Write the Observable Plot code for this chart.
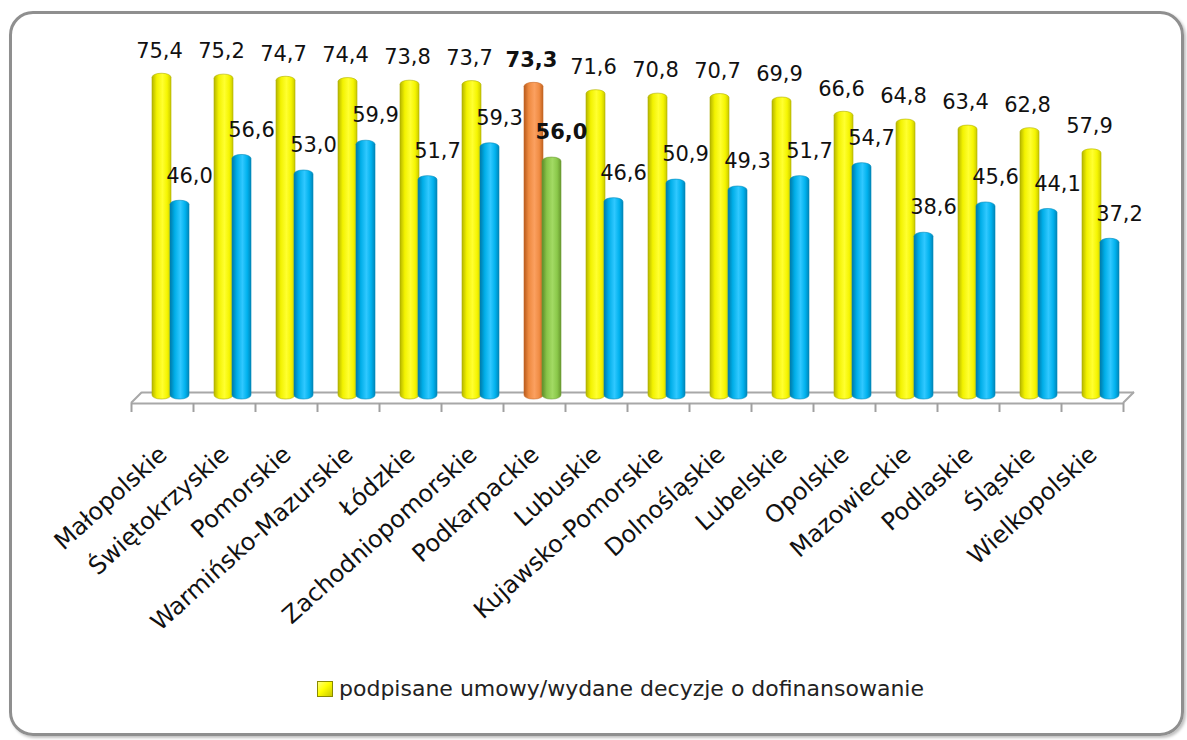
<!DOCTYPE html>
<html>
<head>
<meta charset="utf-8">
<script src="https://cdn.jsdelivr.net/npm/d3@7"></script>
<script src="https://cdn.jsdelivr.net/npm/@observablehq/plot@0.6"></script>
<style>
  html, body { margin: 0; padding: 0; background: #fff; }
  body { width: 1187px; height: 740px; overflow: hidden; position: relative; font-family: "DejaVu Sans", sans-serif; }
  #frame { position: absolute; left: 9px; top: 11px; width: 1175px; height: 725px; box-sizing: border-box;
           border: 3px solid #8f8f8f; border-radius: 24px; box-shadow: 2px 2px 3px rgba(0,0,0,0.25); pointer-events: none; }
  #chart { position: absolute; left: 0; top: 0; }
  #legend { position: absolute; left: 317px; top: 676px; display: flex; align-items: center; gap: 6px;
            font-family: "DejaVu Sans", sans-serif; font-size: 22px; color: #222; white-space: nowrap; }
  #legend .sw { width: 14px; height: 14px; border: 1px solid #8a8a00;
                background: linear-gradient(135deg, #ffff80 0%, #ffff00 45%, #c8c800 100%); }
</style>
</head>
<body>
<div id="chart"></div>
<div id="frame"></div>
<div id="legend"><span class="sw"></span><span>podpisane umowy/wydane decyzje o dofinansowanie</span></div>
<script>
const regions = ["Małopolskie", "Świętokrzyskie", "Pomorskie", "Warmińsko-Mazurskie", "Łódzkie",
  "Zachodniopomorskie", "Podkarpackie", "Lubuskie", "Kujawsko-Pomorskie", "Dolnośląskie",
  "Lubelskie", "Opolskie", "Mazowieckie", "Podlaskie", "Śląskie", "Wielkopolskie"];
const signed = [75.4, 75.2, 74.7, 74.4, 73.8, 73.7, 73.3, 71.6, 70.8, 70.7, 69.9, 66.6, 64.8, 63.4, 62.8, 57.9];
const second = [46.0, 56.6, 53.0, 59.9, 51.7, 59.3, 56.0, 46.6, 50.9, 49.3, 51.7, 54.7, 38.6, 45.6, 44.1, 37.2];
const highlight = "Podkarpackie";

const rows = regions.map((r, i) => ({region: r, a: signed[i], b: second[i]}));
const fmt = v => d3.format(".1f")(v).replace(".", ",");
const isH = d => d.region === highlight;
const notH = d => d.region !== highlight;

const labelFont = {fontFamily: "DejaVu Sans", fontSize: 21, fill: "#111"};

const chart = Plot.plot({
  width: 1187,
  height: 640,
  marginLeft: 131,
  marginRight: 64,
  marginTop: 53.4,
  marginBottom: 241,
  style: {background: "transparent", overflow: "visible"},
  x: {type: "band", domain: regions, padding: 0, axis: null},
  y: {domain: [0, 80], axis: null},
  color: {type: "identity"},
  marks: [
    // floor
    Plot.ruleY([0], {dy: -7, dx: 11, stroke: "#a8a8a8", strokeWidth: 2}),
    Plot.ruleY([0], {dy: 4, stroke: "#a8a8a8", strokeWidth: 2}),
    Plot.axisX({tickSize: 9, dy: 4, dx: -31, label: null, tickFormat: () => "", stroke: "#a0a0a0", strokeWidth: 2}),
    Plot.axisX([regions[regions.length - 1]], {tickSize: 9, dy: 4, dx: 31, label: null, tickFormat: () => "", stroke: "#a0a0a0", strokeWidth: 2}),
    // bars
    Plot.barY(rows, {x: "region", y: "a", insetLeft: 21, insetRight: 22, rx: 9, ry: 4,
      fill: d => isH(d) ? "url(#gOrange)" : "url(#gYellow)", stroke: d => isH(d) ? "#c86a28" : "#b0b000", strokeWidth: 0.6}),
    Plot.barY(rows, {x: "region", y: "b", insetLeft: 39, insetRight: 4, rx: 9, ry: 4,
      fill: d => isH(d) ? "url(#gGreen)" : "url(#gBlue)", stroke: d => isH(d) ? "#6f9e38" : "#0089bb", strokeWidth: 0.6}),
    // value labels
    Plot.text(rows, {filter: notH, x: "region", y: "a", text: d => fmt(d.a), dx: -3, dy: -23, ...labelFont}),
    Plot.text(rows, {filter: notH, x: "region", y: "b", text: d => fmt(d.b), dx: 27, dy: -25, ...labelFont}),
    Plot.text(rows, {filter: isH, x: "region", y: "a", text: d => fmt(d.a), dx: -3, dy: -23, fontWeight: "bold", ...labelFont}),
    Plot.text(rows, {filter: isH, x: "region", y: "b", text: d => fmt(d.b), dx: 27, dy: -25, fontWeight: "bold", ...labelFont}),
    // category labels
    Plot.text(rows, {x: "region", frameAnchor: "bottom", text: "region", rotate: -42, textAnchor: "end",
      dx: 6, dy: 57, fontFamily: "DejaVu Sans", fontSize: 24, fill: "#111"})
  ]
});

document.getElementById("chart").appendChild(chart);

// gradients for cylinder look
const svg = d3.select(chart);
const defs = svg.insert("defs", ":first-child");
function grad(id, stops) {
  const g = defs.append("linearGradient").attr("id", id).attr("x1", 0).attr("x2", 1).attr("y1", 0).attr("y2", 0);
  stops.forEach(([o, c]) => g.append("stop").attr("offset", o).attr("stop-color", c));
}
grad("gYellow", [[0, "#b5b500"], [0.25, "#f2f200"], [0.55, "#ffff30"], [0.8, "#f5f500"], [1, "#c9c900"]]);
grad("gBlue", [[0, "#0079a8"], [0.25, "#00aee8"], [0.55, "#30c8ff"], [0.8, "#00b2ee"], [1, "#0085b8"]]);
grad("gOrange", [[0, "#b85a1c"], [0.25, "#ee8a40"], [0.55, "#fba060"], [0.8, "#f08c44"], [1, "#c2621e"]]);
grad("gGreen", [[0, "#5d8a2a"], [0.25, "#88c448"], [0.55, "#a2da64"], [0.8, "#8ac84a"], [1, "#68982e"]]);

// floor side edges via the chart's scales
const xs = chart.scale("x"), ys = chart.scale("y");
const x0 = xs.apply(regions[0]), x1 = xs.apply(regions[regions.length - 1]) + xs.bandwidth;
const y0 = ys.apply(0);
svg.append("path")
  .attr("d", `M${x0},${y0 + 4}L${x0 + 11},${y0 - 7}M${x1},${y0 + 4}L${x1 + 11},${y0 - 7}`)
  .attr("stroke", "#a8a8a8").attr("stroke-width", 2).attr("fill", "none");
</script>
</body>
</html>
